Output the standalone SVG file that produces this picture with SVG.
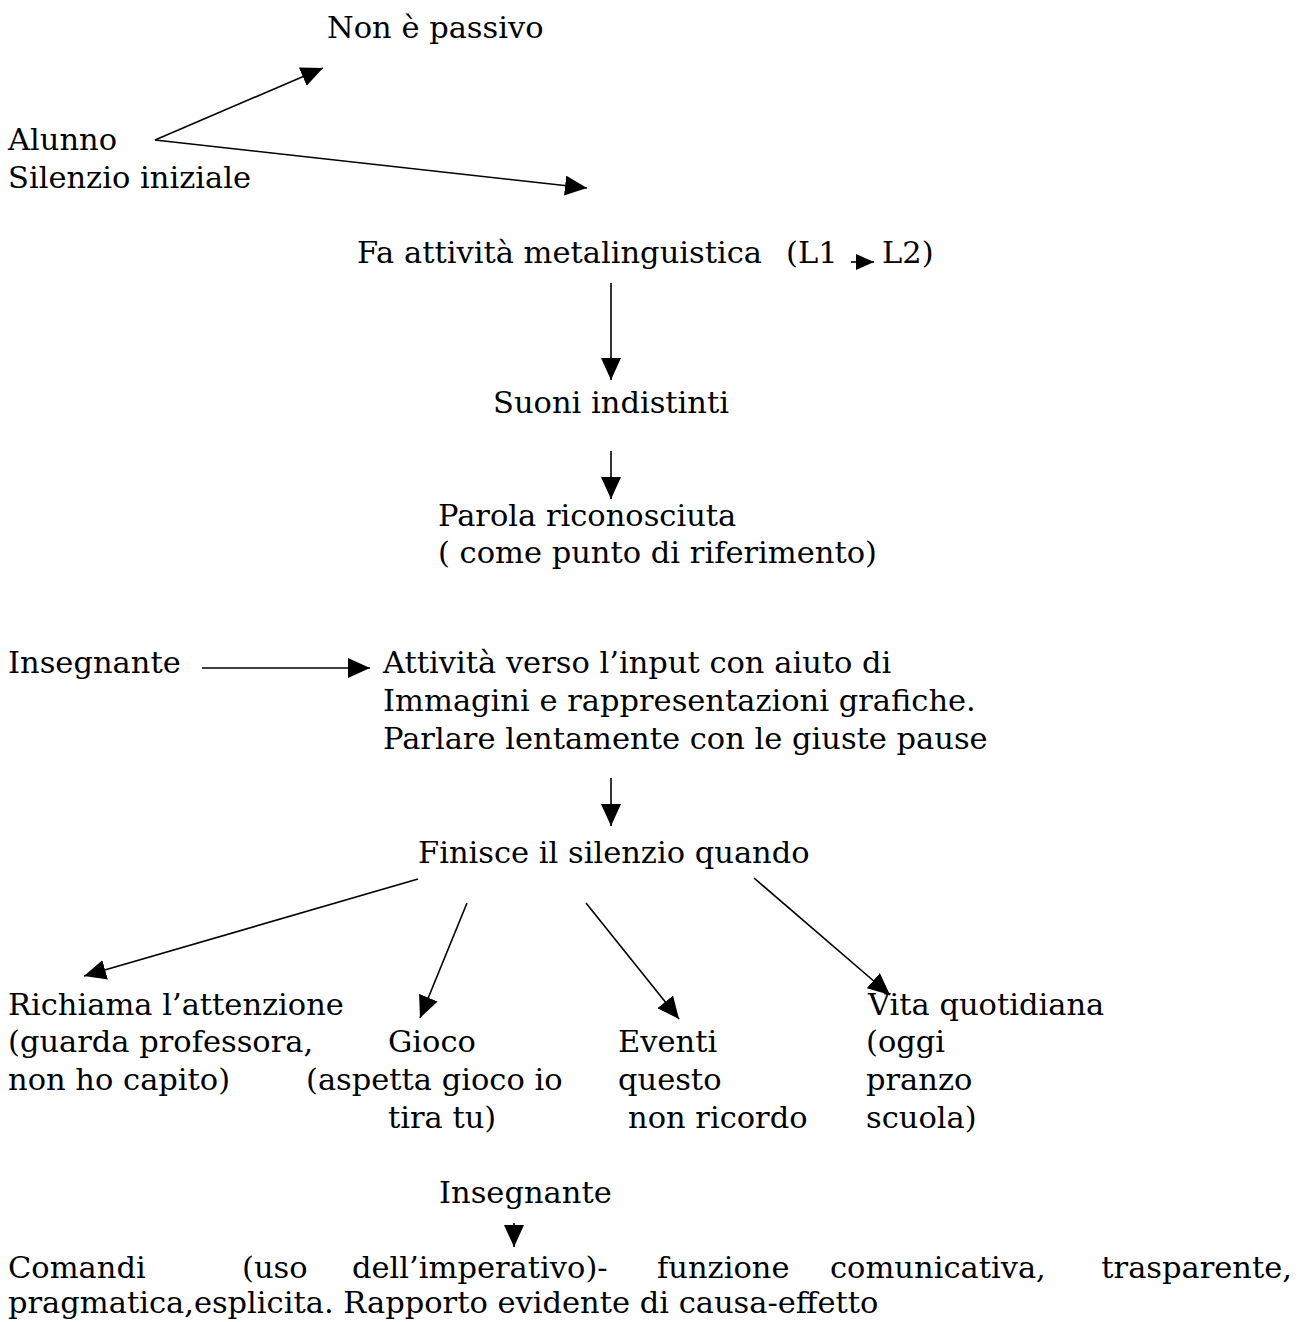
<svg xmlns="http://www.w3.org/2000/svg" width="1297" height="1322" viewBox="0 0 1297 1322">
<defs>
<style>
text{font-family:"DejaVu Serif","Liberation Serif",serif;font-size:30.5px;fill:#000}
.c{stroke:#000;stroke-width:1.6;fill:none}
</style>
<marker id="big" markerUnits="userSpaceOnUse" markerWidth="22" markerHeight="20" refX="22" refY="10" orient="auto"><path d="M0,0 L22,10 L0,20 z" fill="#000"/></marker>
<marker id="sm" markerUnits="userSpaceOnUse" markerWidth="18" markerHeight="16" refX="18" refY="8" orient="auto"><path d="M0,0 L18,8 L0,16 z" fill="#000"/></marker>
</defs>
<rect width="1297" height="1322" fill="#fff"/>
<g id="connectors">
<line class="c" x1="155" y1="140" x2="323" y2="68" marker-end="url(#big)"/>
<line class="c" x1="155" y1="140" x2="587" y2="188" marker-end="url(#big)"/>
<line class="c" x1="851" y1="262" x2="874" y2="262" marker-end="url(#sm)"/>
<line class="c" x1="611" y1="283" x2="611" y2="380" marker-end="url(#big)"/>
<line class="c" x1="611" y1="451" x2="611" y2="499" marker-end="url(#big)"/>
<line class="c" x1="202" y1="668" x2="370" y2="668" marker-end="url(#big)"/>
<line class="c" x1="611" y1="778" x2="611" y2="826" marker-end="url(#big)"/>
<line class="c" x1="418" y1="879" x2="84" y2="976" marker-end="url(#big)"/>
<line class="c" x1="467" y1="903" x2="420" y2="1018" marker-end="url(#big)"/>
<line class="c" x1="586" y1="903" x2="679" y2="1019" marker-end="url(#big)"/>
<line class="c" x1="754" y1="878" x2="890" y2="995" marker-end="url(#big)"/>
<line class="c" x1="514" y1="1223" x2="514" y2="1247" marker-end="url(#big)"/>
</g>
<g id="n-nonpassivo"><text x="327" y="38">Non è passivo</text></g>
<g id="n-alunno"><text x="8" y="150">Alunno</text><text x="8" y="188">Silenzio iniziale</text></g>
<g id="n-metaling"><text x="357" y="263">Fa attività metalinguistica</text><text x="786" y="263">(L1</text><text x="882" y="263">L2)</text></g>
<g id="n-suoni"><text x="493" y="413">Suoni indistinti</text></g>
<g id="n-parola"><text x="438" y="526">Parola riconosciuta</text><text x="438" y="563">( come punto di riferimento)</text></g>
<g id="n-insegnante1"><text x="8" y="673">Insegnante</text></g>
<g id="n-attivita"><text x="383" y="673">Attività verso l’input con aiuto di</text><text x="383" y="711">Immagini e rappresentazioni grafiche.</text><text x="383" y="749">Parlare lentamente con le giuste pause</text></g>
<g id="n-finisce"><text x="418" y="863">Finisce il silenzio quando</text></g>
<g id="n-richiama"><text x="8" y="1015">Richiama l’attenzione</text><text x="8" y="1052">(guarda professora,</text><text x="8" y="1090">non ho capito)</text></g>
<g id="n-gioco"><text x="388" y="1052">Gioco</text><text x="306" y="1090">(aspetta gioco io</text><text x="388" y="1128">tira tu)</text></g>
<g id="n-eventi"><text x="618" y="1052">Eventi</text><text x="618" y="1090">questo</text><text x="628" y="1128">non ricordo</text></g>
<g id="n-vita"><text x="868" y="1015">Vita quotidiana</text><text x="866" y="1052">(oggi</text><text x="866" y="1090">pranzo</text><text x="866" y="1128">scuola)</text></g>
<g id="n-insegnante2"><text x="439" y="1203">Insegnante</text></g>
<g id="n-comandi"><text x="8" y="1278">Comandi</text><text x="242" y="1278">(uso</text><text x="352" y="1278">dell’imperativo)-</text><text x="657" y="1278">funzione</text><text x="830" y="1278">comunicativa,</text><text x="1292" y="1278" text-anchor="end">trasparente,</text><text x="8" y="1313">pragmatica,esplicita. Rapporto evidente di causa-effetto</text></g>
</svg>
